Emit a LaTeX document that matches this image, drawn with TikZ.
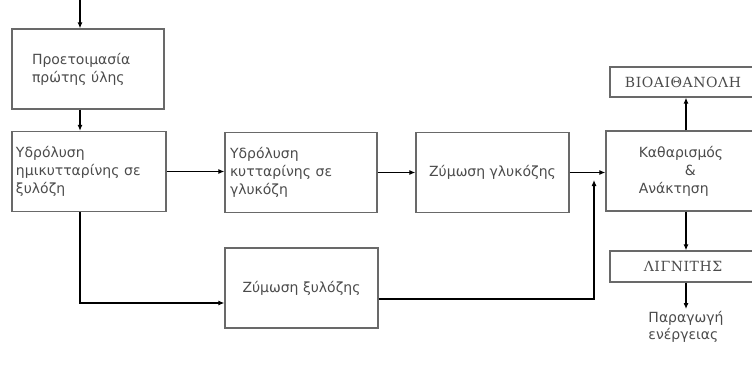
\documentclass[tikz,border=0pt]{standalone}
\usepackage{fontspec}
\setmainfont{DejaVu Sans}
\newfontfamily\capsfont[LetterSpace=4]{DejaVu Serif}
\usepackage{tikz}
\usetikzlibrary{arrows.meta, positioning, calc}
\definecolor{boxgray}{RGB}{105,105,105}
\definecolor{txtgray}{RGB}{75,75,75}

\begin{document}
\begin{tikzpicture}[x=1pt, y=-1pt,
  box/.style={draw=boxgray, line width=1.3pt, minimum height=80pt, text=txtgray, font=\fontsize{14}{18}\selectfont},
  capbox/.style={box, minimum width=146pt, minimum height=30pt, font=\capsfont\fontsize{14}{18}\selectfont},
  arr/.style={-{Latex[length=6pt,width=5pt]}, line width=1.1pt, black}]
  \useasboundingbox (0,0) rectangle (752,367);
  \clip (0,0) rectangle (752,367);

  % Left column
  \node[box, text width=112pt, inner xsep=20pt, align=left] (prep) at (88,69) {Προετοιμασία\\πρώτης ύλης};
  \node[box, text width=146pt, inner xsep=4pt, align=left] (hemi) at (89,171.5) {Υδρόλυση\\ημικυτταρίνης σε\\ξυλόζη};

  % Middle row
  \node[box, text width=142pt, inner xsep=5pt, align=left] (cell) at (301,172.5) {Υδρόλυση\\κυτταρίνης σε\\γλυκόζη};
  \node[box, minimum width=153pt] (glu) at (492.5,172.5) {Ζύμωση γλυκόζης};
  \node[box, minimum width=153pt] (xyl) at (301.5,288) {Ζύμωση ξυλόζης};

  % Right column
  \node[box, minimum width=150pt, align=left] (purif) at (681,171) {Καθαρισμός\\\hspace*{46pt}\&\\Ανάκτηση};
  \node[capbox] (bio) at (683,82) {ΒΙΟΑΙΘΑΝΟΛΗ};
  \node[capbox, minimum height=31pt] (lign) at (683,266.5) {ΛΙΓΝΙΤΗΣ};
  \node[text=txtgray, font=\fontsize{14}{17}\selectfont, align=left, anchor=north, inner sep=2pt] (energy) at (686,309) {Παραγωγή\\ενέργειας};

  \coordinate (feed) at (80,0);
  \coordinate (join) at (594,180);

  % Connectors
  \draw[arr] (feed) -- (feed |- prep.north);
  \draw[arr] (feed |- prep.south) -- (feed |- hemi.north);
  \draw[arr] (hemi.east) -- (hemi.east -| cell.west);
  \draw[arr] (cell.east) -- (cell.east -| glu.west);
  \draw[arr] (glu.east) -- (glu.east -| purif.west);
  \draw[arr] (feed |- hemi.south) |- ([yshift=-15pt]xyl.west);
  \draw[arr] ([yshift=-11pt]xyl.east) -| (join);
  \draw[arr] (energy.north |- purif.north) -- (energy.north |- bio.south);
  \draw[arr] (energy.north |- purif.south) -- (energy.north |- lign.north);
  \draw[arr] (energy.north |- lign.south) -- (energy.north);
\end{tikzpicture}
\end{document}
